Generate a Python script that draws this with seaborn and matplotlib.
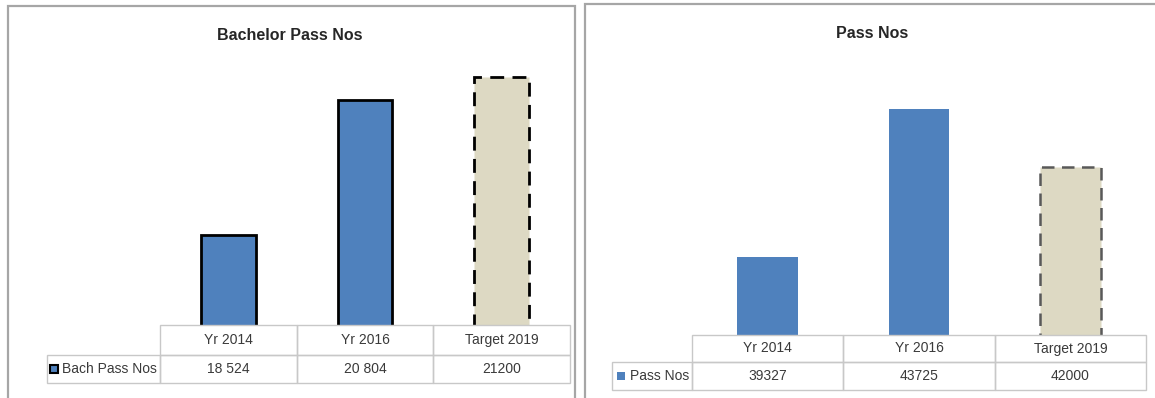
import matplotlib
matplotlib.use("Agg")
import matplotlib.pyplot as plt
from matplotlib.patches import Rectangle
import pandas as pd
import seaborn as sns

# data
categories = ["Yr 2014", "Yr 2016", "Target 2019"]
bach_values = [18524, 20804, 21200]
bach_labels = ["18 524", "20 804", "21200"]
pass_values = [39327, 43725, 42000]
pass_labels = ["39327", "43725", "42000"]

blue = "#4f81bd"
beige = "#ddd9c3"

sns.set_theme(style="white")
plt.rcParams["font.family"] = ["Liberation Sans", "DejaVu Sans"]

W, H = 1155, 398
fig = plt.figure(figsize=(W / 100, H / 100), dpi=100)


def box(x0, y0, x1, y1):
    # pixel box -> figure fraction [left, bottom, width, height]
    return [x0 / W, 1 - y1 / H, (x1 - x0) / W, (y1 - y0) / H]


def rect(x0, y0, x1, y1, **kw):
    l, b, w, h = box(x0, y0, x1, y1)
    fig.patches.append(Rectangle((l, b), w, h, transform=fig.transFigure, **kw))


# panel frames
rect(8, 6, 575, 420, fill=False, edgecolor="#a6a6a6", linewidth=1.6)
rect(585, 4, 1180, 420, fill=False, edgecolor="#a6a6a6", linewidth=1.6)


def panel(area, values, labels, ylim, title, title_xy, row_name, lab_x, row_ys, edge, dash_col, key):
    x0, y0, x1, y1 = area
    ax = fig.add_axes(box(*area))
    df = pd.DataFrame({"cat": categories, "val": values})
    sns.barplot(data=df, x="cat", y="val", hue="cat", palette=[blue, blue, beige],
                width=0.4, legend=False, ax=ax, saturation=1)
    for i, p in enumerate(ax.patches):
        if i == 2:
            p.set_edgecolor(dash_col)
            p.set_linewidth(2.0 if edge else 1.8)
            p.set_linestyle((0, (5, 3)))
        elif edge:
            p.set_edgecolor("black")
            p.set_linewidth(2.0)
        else:
            p.set_linewidth(0)
    ax.set_xlim(-0.5, 2.5)
    ax.set_ylim(*ylim)
    ax.set_axis_off()

    tx, ty = title_xy
    fig.text(tx / W, 1 - ty / H, title, ha="center", va="center",
             fontsize=11.5, fontweight="bold", color="#262626")

    # data table under the bars
    ya, yb, yc = row_ys
    cw = (x1 - x0) / 3
    grid = dict(fill=False, edgecolor="#c8c8c8", linewidth=1.0)
    for i, (cat, lab) in enumerate(zip(categories, labels)):
        cx0 = x0 + i * cw
        rect(cx0, ya, cx0 + cw, yb, **grid)
        rect(cx0, yb, cx0 + cw, yc, **grid)
        fig.text((cx0 + cw / 2) / W, 1 - (ya + yb) / 2 / H, cat, ha="center", va="center",
                 fontsize=10, color="#3a3a3a")
        fig.text((cx0 + cw / 2) / W, 1 - (yb + yc) / 2 / H, lab, ha="center", va="center",
                 fontsize=10, color="#3a3a3a")
    rect(lab_x, yb, x0, yc, **grid)
    fig.text((x0 - 3) / W, 1 - (yb + yc) / 2 / H, row_name, ha="right", va="center",
             fontsize=10, color="#3a3a3a")

    # legend key in the row label cell
    kx, ks = key
    ky = (yb + yc) / 2 - ks / 2
    rect(kx, ky, kx + ks, ky + ks, facecolor=blue,
         edgecolor="black" if edge else blue, linewidth=1.5 if edge else 0)
    return ax


panel((160, 59, 570, 325), bach_values, bach_labels, (17000, 21500),
      "Bachelor Pass Nos", (290, 35), "Bach Pass Nos", 47, (325, 355, 383),
      True, "black", (50, 8))
panel((692, 66, 1146, 335), pass_values, pass_labels, (37000, 45000),
      "Pass Nos", (872, 33), "Pass Nos", 612, (335, 362, 390),
      False, "#595959", (617, 8))

fig.savefig("out.png", dpi=100)
